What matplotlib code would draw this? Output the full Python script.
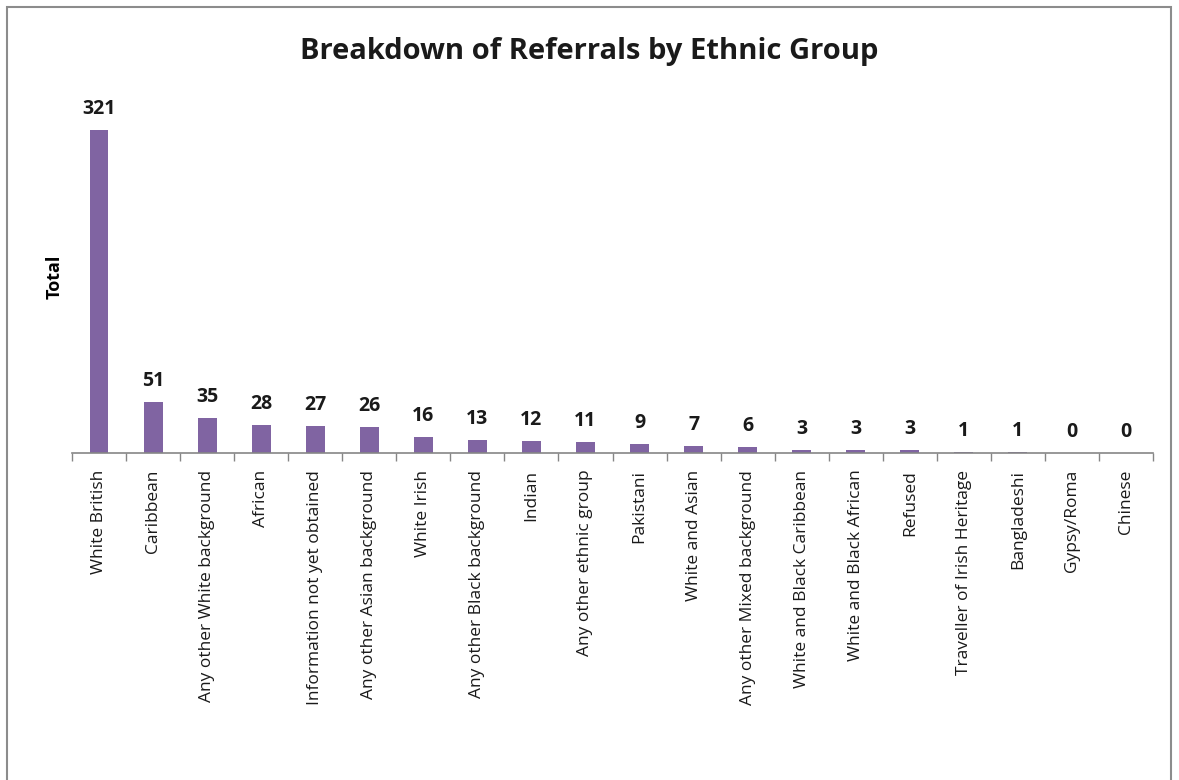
import matplotlib

matplotlib.use("Agg")
import matplotlib.pyplot as plt
import numpy as np
from matplotlib.patches import Rectangle

groups = [
    "White British",
    "Caribbean",
    "Any other White background",
    "African",
    "Information not yet obtained",
    "Any other Asian background",
    "White Irish",
    "Any other Black background",
    "Indian",
    "Any other ethnic group",
    "Pakistani",
    "White and Asian",
    "Any other Mixed background",
    "White and Black Caribbean",
    "White and Black African",
    "Refused",
    "Traveller of Irish Heritage",
    "Bangladeshi",
    "Gypsy/Roma",
    "Chinese",
]
totals = [321, 51, 35, 28, 27, 26, 16, 13, 12, 11, 9, 7, 6, 3, 3, 3, 1, 1, 0, 0]

BAR = "#8064A2"
AXIS = "#868686"
plt.rcParams["font.family"] = ["Open Sans", "DejaVu Sans"]

fig = plt.figure(figsize=(11.79, 7.8), dpi=100)
# chart frame
fig.patches.append(Rectangle((7 / 1179, -0.05), 1164 / 1179, 1.05 - 7 / 780,
                             transform=fig.transFigure, fill=False,
                             edgecolor="#8c8c8c", linewidth=1.5))

ax = fig.add_axes([72 / 1179, 1 - 453 / 780, (1153 - 72) / 1179, 352 / 780])
x = np.arange(len(groups))
ax.bar(x, totals, width=0.35, color=BAR)
for xi, v in zip(x, totals):
    ax.annotate(str(v), (xi, v), xytext=(0, 8), textcoords="offset points",
                ha="center", va="bottom",
                fontsize=14, fontweight="bold", color="#1a1a1a")

ax.set_xlim(-0.5, len(groups) - 0.5)
ax.set_ylim(0, 350)
ax.set_yticks([])
for side in ("top", "right", "left"):
    ax.spines[side].set_visible(False)
ax.spines["bottom"].set_color(AXIS)
ax.spines["bottom"].set_linewidth(1.2)

# boundary ticks between categories, labels centred under bars
ax.set_xticks(np.arange(len(groups) + 1) - 0.5)
ax.set_xticklabels([])
ax.tick_params(axis="x", which="major", length=6, color=AXIS, width=1)
ax.set_xticks(x, minor=True)
ax.set_xticklabels(groups, minor=True, rotation=90, fontsize=12.5, color="#1a1a1a")
ax.tick_params(axis="x", which="minor", length=0, pad=12)

ax.set_ylabel("Total", fontsize=13, fontweight="bold", labelpad=6)
fig.text(0.5, 1 - 52 / 780, "Breakdown of Referrals by Ethnic Group",
         ha="center", va="center", fontsize=21, fontweight="bold", color="#1a1a1a")

fig.savefig("out.png", dpi=100)
